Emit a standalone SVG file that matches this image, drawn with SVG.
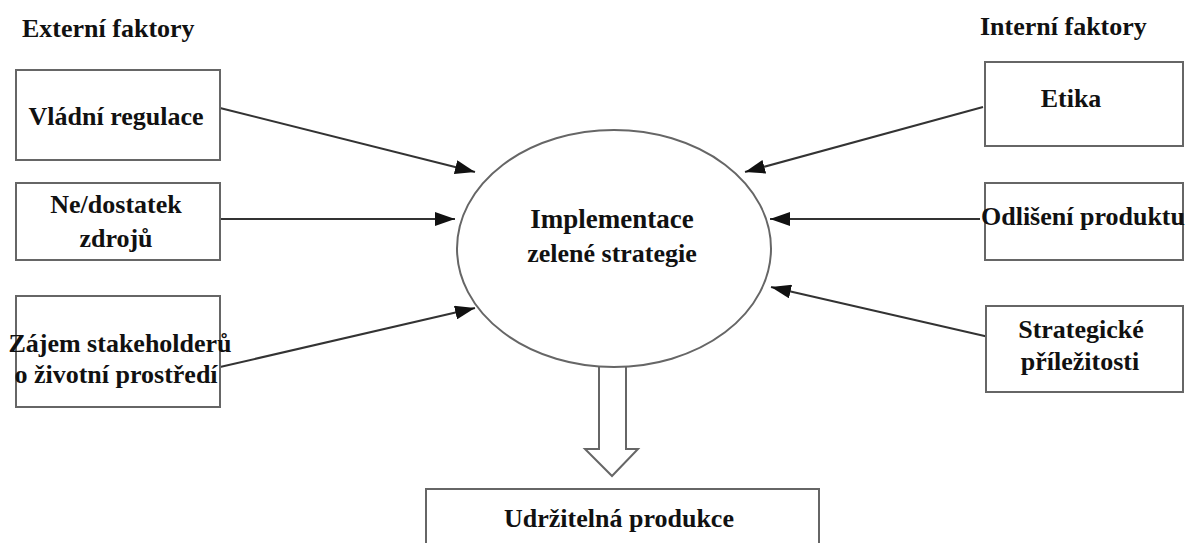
<svg xmlns="http://www.w3.org/2000/svg" width="1186" height="543" viewBox="0 0 1186 543" font-family="Liberation Serif">
<defs>
<marker id="ah" viewBox="0 0 10 10" refX="10" refY="5" markerWidth="20" markerHeight="14" markerUnits="userSpaceOnUse" orient="auto" preserveAspectRatio="none">
<path d="M0,0 L10,5 L0,10 z" fill="#111"/>
</marker>
</defs>
<rect width="1186" height="543" fill="#fff"/>
<text x="22" y="37" font-family="Liberation Serif" font-weight="bold" font-size="26" fill="#111">Externí faktory</text>
<text x="980" y="35" font-family="Liberation Serif" font-weight="bold" font-size="26" fill="#111">Interní faktory</text>
<g id="connectors" stroke="#333" stroke-width="2" fill="none">
<line x1="220" y1="108" x2="475" y2="172" marker-end="url(#ah)"/>
<line x1="220" y1="219" x2="455" y2="219" marker-end="url(#ah)"/>
<line x1="220" y1="367" x2="475" y2="308" marker-end="url(#ah)"/>
<line x1="983" y1="107" x2="745" y2="172" marker-end="url(#ah)"/>
<line x1="980" y1="219" x2="770" y2="219" marker-end="url(#ah)"/>
<line x1="1002" y1="340" x2="771" y2="287" marker-end="url(#ah)"/>
<path d="M599,367 L599,449 L585,449 L612,476 L638,449 L626,449 L626,367" fill="#fff" stroke="#666"/>
</g>
<g id="n-vladni">
<rect x="16" y="70" width="204" height="90" fill="#fff" stroke="#666" stroke-width="2"/>
<text x="116" y="125" font-family="Liberation Serif" font-weight="bold" font-size="26" fill="#111" text-anchor="middle">Vládní regulace</text>
</g>
<g id="n-zdroje">
<rect x="16" y="183" width="204" height="77" fill="#fff" stroke="#666" stroke-width="2"/>
<text x="116" y="213" font-family="Liberation Serif" font-weight="bold" font-size="26" fill="#111" text-anchor="middle">Ne/dostatek</text>
<text x="116" y="247" font-family="Liberation Serif" font-weight="bold" font-size="26" fill="#111" text-anchor="middle">zdrojů</text>
</g>
<g id="n-stakeholderi">
<rect x="16" y="296" width="204" height="111" fill="#fff" stroke="#666" stroke-width="2"/>
<text x="120" y="352" font-family="Liberation Serif" font-weight="bold" font-size="26" fill="#111" text-anchor="middle">Zájem stakeholderů</text>
<text x="116" y="383" font-family="Liberation Serif" font-weight="bold" font-size="26" fill="#111" text-anchor="middle">o životní prostředí</text>
</g>
<g id="n-etika">
<rect x="985" y="62" width="198" height="84" fill="#fff" stroke="#666" stroke-width="2"/>
<text x="1071" y="107" font-family="Liberation Serif" font-weight="bold" font-size="26" fill="#111" text-anchor="middle">Etika</text>
</g>
<g id="n-odliseni">
<rect x="985" y="183" width="198" height="77" fill="#fff" stroke="#666" stroke-width="2"/>
<text x="1083" y="225" font-family="Liberation Serif" font-weight="bold" font-size="26" fill="#111" text-anchor="middle">Odlišení produktu</text>
</g>
<g id="n-strategicke">
<rect x="986" y="306" width="197" height="86" fill="#fff" stroke="#666" stroke-width="2"/>
<text x="1081" y="338" font-family="Liberation Serif" font-weight="bold" font-size="26" fill="#111" text-anchor="middle">Strategické</text>
<text x="1080" y="370" font-family="Liberation Serif" font-weight="bold" font-size="26" fill="#111" text-anchor="middle">příležitosti</text>
</g>
<g id="n-implementace">
<ellipse cx="614" cy="248.5" rx="157" ry="118.5" fill="#fff" stroke="#666" stroke-width="2"/>
<text x="612" y="228" font-family="Liberation Serif" font-weight="bold" font-size="27" fill="#111" text-anchor="middle">Implementace</text>
<text x="612" y="262" font-family="Liberation Serif" font-weight="bold" font-size="26" fill="#111" text-anchor="middle">zelené strategie</text>
</g>
<g id="n-produkce">
<rect x="426" y="489" width="393" height="70" fill="#fff" stroke="#666" stroke-width="2"/>
<text x="619" y="527" font-family="Liberation Serif" font-weight="bold" font-size="26" fill="#111" text-anchor="middle">Udržitelná produkce</text>
</g>
</svg>
